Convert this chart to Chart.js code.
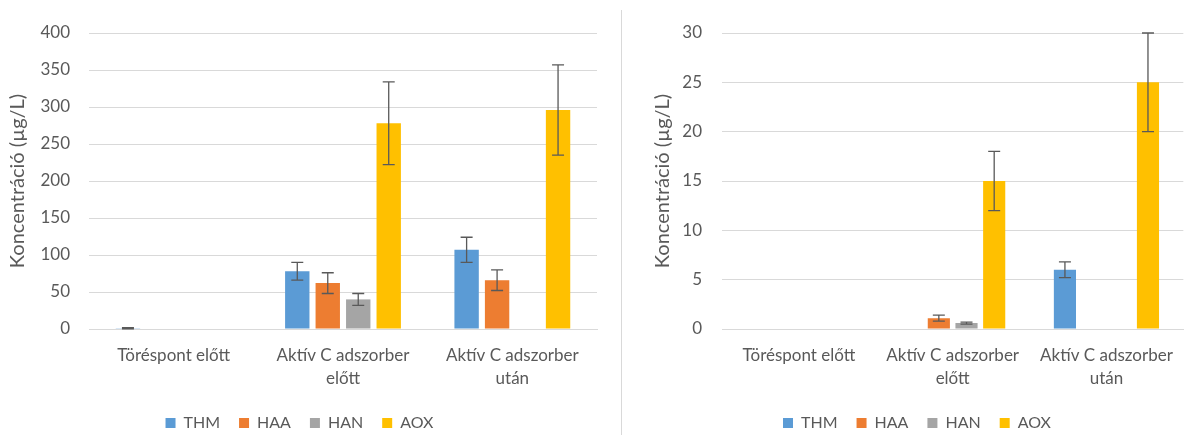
<!DOCTYPE html>
<html>
<head>
<meta charset="utf-8">
<script src="https://cdn.jsdelivr.net/npm/chart.js@4.4.0/dist/chart.umd.min.js"></script>
<style>
  html, body { margin: 0; padding: 0; background: #fff; }
  #wrap { position: relative; width: 1188px; height: 435px; overflow: hidden; }
  #left { position: absolute; left: 0; top: 0; width: 612px; height: 441px; }
  #sep { position: absolute; left: 621px; top: 10px; width: 1px; height: 425px; background: #d9d9d9; }
  #right { position: absolute; left: 632px; top: 0; width: 556px; height: 441px; }
</style>
</head>
<body>
<div id="wrap">
  <div id="left"><canvas id="c1"></canvas></div>
  <div id="sep"></div>
  <div id="right"><canvas id="c2"></canvas></div>
</div>
<script>
// kategóriák
const categories = [['Töréspont előtt'], ['Aktív C adszorber', 'előtt'], ['Aktív C adszorber', 'után']];
const seriesNames = ['THM', 'HAA', 'HAN', 'AOX'];
const colors = ['#5b9bd5', '#ed7d31', '#a5a5a5', '#ffc000'];

// bal oldali diagram (µg/L)
const leftTHM = [1, 78, 107];
const leftHAA = [0, 62, 66];
const leftHAN = [0, 40, 0];
const leftAOX = [0, 278, 296];
const leftTHMErr = [0.8, 12, 17];
const leftHAAErr = [0, 14, 14];
const leftHANErr = [0, 8, 0];
const leftAOXErr = [0, 56, 61];
const leftTicks = [0, 50, 100, 150, 200, 250, 300, 350, 400];

// jobb oldali diagram (µg/L)
const rightTHM = [0, 0, 6];
const rightHAA = [0, 1.1, 0];
const rightHAN = [0, 0.6, 0];
const rightAOX = [0, 15, 25];
const rightTHMErr = [0, 0, 0.8];
const rightHAAErr = [0, 0.3, 0];
const rightHANErr = [0, 0.1, 0];
const rightAOXErr = [0, 3, 5];
const rightTicks = [0, 5, 10, 15, 20, 25, 30];

const textColor = '#595959';
const fontFamily = 'Lato, "Open Sans", sans-serif';

// hibasávok rajzolása a skálák alapján
const errorBars = {
  id: 'errorBars',
  afterDatasetsDraw(chart) {
    const ctx = chart.ctx;
    const yScale = chart.scales.y;
    ctx.save();
    ctx.strokeStyle = '#595959';
    ctx.lineWidth = 1.3;
    chart.data.datasets.forEach((ds, i) => {
      const meta = chart.getDatasetMeta(i);
      meta.data.forEach((bar, j) => {
        const e = ds.errors[j];
        if (!e) return;
        const v = ds.data[j];
        const yTop = yScale.getPixelForValue(v + e);
        const yBot = yScale.getPixelForValue(Math.max(0, v - e));
        const x = bar.x;
        ctx.beginPath();
        ctx.moveTo(x, yTop); ctx.lineTo(x, yBot);
        ctx.moveTo(x - 6, yTop); ctx.lineTo(x + 6, yTop);
        ctx.moveTo(x - 6, yBot); ctx.lineTo(x + 6, yBot);
        ctx.stroke();
      });
    });
    ctx.restore();
  }
};

function makeDatasets(values, errors) {
  return seriesNames.map((name, i) => ({
    label: name,
    data: values[i],
    errors: errors[i],
    backgroundColor: colors[i],
    borderWidth: 0,
    categoryPercentage: 0.72,
    barPercentage: 0.8
  }));
}

// padLeft / padRight: belső margó, yWidth: a tengely szélessége
function makeChart(id, values, errors, ticks, padLeft, padRight, yWidth, tickPad) {
  const ctx = document.getElementById(id).getContext('2d');
  return new Chart(ctx, {
    type: 'bar',
    data: { labels: categories, datasets: makeDatasets(values, errors) },
    plugins: [errorBars],
    options: {
      responsive: true,
      maintainAspectRatio: false,
      animation: false,
      layout: { padding: { top: 33, left: padLeft, right: padRight, bottom: 0 } },
      plugins: {
        tooltip: { enabled: false },
        legend: {
          position: 'bottom',
          labels: {
            boxWidth: 10, boxHeight: 10, padding: 19,
            color: textColor,
            font: { family: fontFamily, size: 16 }
          }
        }
      },
      scales: {
        x: {
          grid: { display: false, drawTicks: false },
          border: { color: '#d9d9d9', width: 1 },
          ticks: { color: textColor, font: { family: fontFamily, size: 17, lineHeight: 1.35 }, maxRotation: 0, padding: 15 },
          afterFit: (scale) => { scale.height = 67; }
        },
        y: {
          min: ticks[0],
          max: ticks[ticks.length - 1],
          afterBuildTicks: (axis) => { axis.ticks = ticks.map(v => ({ value: v })); },
          afterFit: (scale) => { scale.width = yWidth; },
          grid: { color: '#d9d9d9', drawTicks: false },
          border: { display: false },
          ticks: { color: textColor, font: { family: fontFamily, size: 17 }, padding: tickPad },
          title: { display: true, text: 'Koncentráció (µg/L)', color: textColor, font: { family: fontFamily, size: 20 }, padding: 4 }
        }
      }
    }
  });
}

makeChart('c1',
  [leftTHM, leftHAA, leftHAN, leftAOX],
  [leftTHMErr, leftHAAErr, leftHANErr, leftAOXErr],
  leftTicks, 2, 15, 87, 19);

makeChart('c2',
  [rightTHM, rightHAA, rightHAN, rightAOX],
  [rightTHMErr, rightHAAErr, rightHANErr, rightAOXErr],
  rightTicks, 15, 1, 75, 20);
</script>
</body>
</html>
